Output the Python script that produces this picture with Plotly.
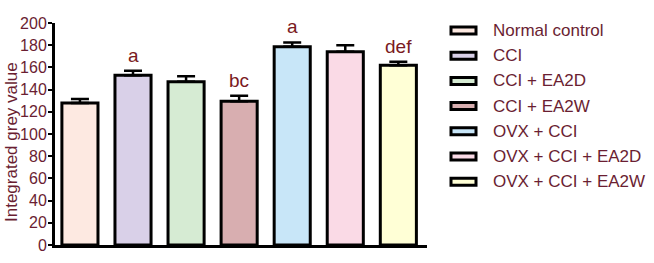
import plotly.graph_objects as go

categories = ["Normal control", "CCI", "CCI + EA2D", "CCI + EA2W",
              "OVX + CCI", "OVX + CCI + EA2D", "OVX + CCI + EA2W"]
values = [128, 153, 147, 129.5, 178.5, 174, 162]
errors = [3.5, 4, 5, 5, 4, 6, 3]
sig_labels = ["", "a", "", "bc", "a", "", "def"]
colors = ["#FDE9E1", "#D9D0E8", "#D6EBD3", "#D8AEB0", "#C8E6F8", "#FADAE6", "#FFFFD6"]
y_ticks = list(range(0, 201, 20))
y_title = "Integrated grey value"

TEXT_COLOR = "#6a1e32"
SIG_COLOR = "#7a1a22"
FONT = "Liberation Sans, Arial, sans-serif"

fig = go.Figure()
fig.add_trace(go.Bar(
    x=list(range(len(categories))),
    y=values,
    width=0.68,
    marker=dict(color=colors, line=dict(color="black", width=3)),
    error_y=dict(type="data", array=errors, arrayminus=[0] * len(errors),
                 symmetric=False, color="black", thickness=2.5, width=9),
    hovertext=categories,
    showlegend=False,
))

annotations = []
for i, (lab, v, e) in enumerate(zip(sig_labels, values, errors)):
    if lab:
        annotations.append(dict(x=i, y=v + e, xref="x", yref="y", text=lab,
                                showarrow=False, yanchor="bottom", yshift=3,
                                font=dict(family=FONT, size=19, color=SIG_COLOR)))

L, T, W, H = 55, 23, 372, 222

# y-axis title (placed slightly below centre, as in the original)
annotations.append(dict(x=(11 - L) / W, y=(T + H - 142) / H, xref="paper", yref="paper",
                        text=y_title, textangle=-90, showarrow=False,
                        xanchor="center", yanchor="middle",
                        font=dict(family=FONT, size=17, color=TEXT_COLOR)))

# custom legend (wide swatches like the original)
shapes = []
for i, (cat, col) in enumerate(zip(categories, colors)):
    ypx = 30.5 + 25.2 * i
    yc = (T + H - ypx) / H
    shapes.append(dict(type="rect", xref="paper", yref="paper",
                       x0=(451 - L) / W, x1=(476 - L) / W,
                       y0=yc - 3.5 / H, y1=yc + 3.5 / H,
                       fillcolor=col, line=dict(color="black", width=3)))
    annotations.append(dict(x=(491 - L) / W, y=yc, xref="paper", yref="paper",
                            text=cat, showarrow=False, xanchor="left", yanchor="middle",
                            font=dict(family=FONT, size=17, color=TEXT_COLOR)))

fig.update_layout(
    width=654, height=263,
    margin=dict(l=L, r=654 - L - W, t=T, b=263 - T - H, autoexpand=False),
    paper_bgcolor="white", plot_bgcolor="white",
    font=dict(family=FONT, color=TEXT_COLOR),
    xaxis=dict(range=[-0.47, 6.54], showticklabels=False, ticks="",
               showline=True, linecolor="black", linewidth=3, automargin=False,
               showgrid=False, zeroline=False, fixedrange=True),
    yaxis=dict(range=[0, 200], tickvals=y_ticks, ticks="outside", ticklen=4,
               tickwidth=2, tickcolor="black", showline=True, linecolor="black",
               linewidth=3, showgrid=False, zeroline=False, automargin=False,
               ticklabelstandoff=-2,
               tickfont=dict(family=FONT, size=16, color=TEXT_COLOR)),
    annotations=annotations,
    shapes=shapes,
    bargap=0.32,
)

fig.write_html("out.html", config={"displayModeBar": False},
               post_script="document.body.style.margin='0';document.body.style.overflow='hidden';")
